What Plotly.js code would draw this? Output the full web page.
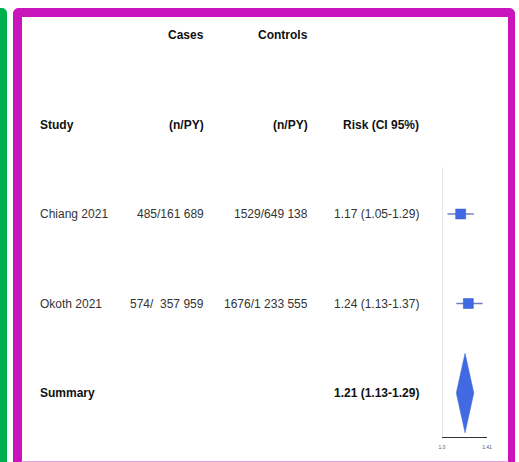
<!DOCTYPE html>
<html>
<head>
<meta charset="utf-8">
<script src="https://cdn.plot.ly/plotly-3.0.1.min.js"></script>
<style>
  html, body { margin: 0; padding: 0; background: #ffffff; }
  #wrap { position: relative; width: 519px; height: 462px; overflow: hidden; background: #ffffff; }
  #green { position: absolute; left: 0; top: 8px; width: 7px; height: 470px; background: #00B04F; border-radius: 0 5px 0 0; }
  #frame { position: absolute; left: 13px; top: 8px; width: 502px; height: 462px; box-sizing: border-box;
           border-style: solid; border-color: #C814BA; border-bottom-color: #E8A2E2;
           border-width: 9px 7px 9px 9px; border-radius: 6px; background: #ffffff; }
  #chart { position: absolute; left: 0; top: 0; width: 519px; height: 462px; }
</style>
</head>
<body>
<div id="wrap">
  <div id="green"></div>
  <div id="frame"></div>
  <div id="chart"></div>
</div>
<script>
// ---- data ----
var studies   = ["Chiang 2021", "Okoth 2021"];
var cases     = ["485/161 689", "574/\u00a0\u00a0357 959"];
var controls  = ["1529/649 138", "1676/1 233 555"];
var riskEst   = [1.17, 1.24];
var riskLo    = [1.05, 1.13];
var riskHi    = [1.29, 1.37];
var summaryLabel = "Summary";
var summaryEst = 1.21;
var summaryLo  = 1.13;
var summaryHi  = 1.29;
var headerTop  = ["", "Cases", "Controls", ""];
var headerBot  = ["Study", "(n/PY)", "(n/PY)", "Risk (CI 95%)"];
var axisTicks  = [1.0, 1.41];
var axisTickText = ["1.0", "1.41"];

// ---- layout helpers (row positions in y units) ----
var rowStudy = [3, 2];
var rowSummary = 1;
var rowHeadBot = 4, rowHeadTop = 5;
var W = 519, H = 462;
var colX = [38 / W, 206 / W, 310 / W, 421 / W];
var colAnchor = ["left", "right", "right", "right"];
var diamondHalf = 0.445;

function fmtCI(e, l, h) { return e.toFixed(2) + " (" + l.toFixed(2) + "-" + h.toFixed(2) + ")"; }

var FONT = "Liberation Sans, Arial, sans-serif";
var ann = [];
function addText(col, row, txt, bold, color) {
  ann.push({
    xref: "paper", yref: "y", x: colX[col], y: row, xanchor: colAnchor[col], yanchor: "middle",
    text: bold ? "<b>" + txt + "</b>" : txt, showarrow: false,
    font: { family: FONT, size: 12, color: color }
  });
}
for (var c = 0; c < 4; c++) {
  if (headerTop[c]) addText(c, rowHeadTop, headerTop[c], true, "#111111");
  addText(c, rowHeadBot, headerBot[c], true, "#111111");
}
for (var i = 0; i < studies.length; i++) {
  addText(0, rowStudy[i], studies[i], false, "#333333");
  addText(1, rowStudy[i], cases[i], false, "#333333");
  addText(2, rowStudy[i], controls[i], false, "#333333");
  addText(3, rowStudy[i], fmtCI(riskEst[i], riskLo[i], riskHi[i]), false, "#333333");
}
addText(0, rowSummary, summaryLabel, true, "#111111");
addText(3, rowSummary, fmtCI(summaryEst, summaryLo, summaryHi), true, "#111111");

var studyTrace = {
  type: "scatter", mode: "markers",
  x: riskEst, y: rowStudy,
  marker: { symbol: "square", size: 10, color: "#4169E1", line: { color: "#3558c8", width: 0.5 } },
  error_x: {
    type: "data", symmetric: false,
    array: riskHi.map(function (h, k) { return h - riskEst[k]; }),
    arrayminus: riskLo.map(function (l, k) { return riskEst[k] - l; }),
    color: "#6f82c4", thickness: 1.5, width: 0
  },
  hoverinfo: "skip", showlegend: false, cliponaxis: false
};

var diamond = {
  type: "scatter", mode: "lines",
  x: [summaryLo, summaryEst, summaryHi, summaryEst, summaryLo],
  y: [rowSummary, rowSummary + diamondHalf, rowSummary, rowSummary - diamondHalf, rowSummary],
  fill: "toself", fillcolor: "#4169E1", line: { color: "#4169E1", width: 0.5 },
  hoverinfo: "skip", showlegend: false
};

// y scale: px per row; summary row at px 393
var pxPerRow = 89.5, summaryPx = 393;
var yMin = rowSummary - (H - summaryPx) / pxPerRow;
var yMax = rowSummary + summaryPx / pxPerRow;
var plotTopPx = 167, plotBotPx = 437;
var refLo = rowSummary - (plotBotPx - summaryPx) / pxPerRow;
var refHi = rowSummary + (summaryPx - plotTopPx) / pxPerRow;

var layout = {
  width: W, height: H,
  margin: { l: 0, r: 0, t: 0, b: 0, pad: 0 },
  paper_bgcolor: "rgba(0,0,0,0)", plot_bgcolor: "rgba(0,0,0,0)",
  showlegend: false,
  xaxis: {
    domain: [442 / W, 487 / W], range: [1.0, 1.41],
    anchor: "free", position: (H - plotBotPx) / H,
    showline: true, linecolor: "#333333", linewidth: 1,
    ticks: "inside", ticklen: 4, tickcolor: "#333333", tickwidth: 1,
    tickvals: axisTicks, ticktext: axisTickText, ticklabelstandoff: 5,
    tickfont: { family: FONT, size: 5, color: "#555555" },
    showgrid: false, zeroline: false, fixedrange: true
  },
  yaxis: {
    domain: [0, 1], range: [yMin, yMax],
    visible: false, showgrid: false, zeroline: false, fixedrange: true
  },
  shapes: [{
    type: "line", xref: "x", yref: "y", x0: 1.0, x1: 1.0, y0: refLo, y1: refHi,
    line: { color: "#d4d4d4", width: 1 }, layer: "below"
  }],
  annotations: ann
};

Plotly.newPlot("chart", [diamond, studyTrace], layout, { displayModeBar: false, staticPlot: true });
</script>
</body>
</html>
